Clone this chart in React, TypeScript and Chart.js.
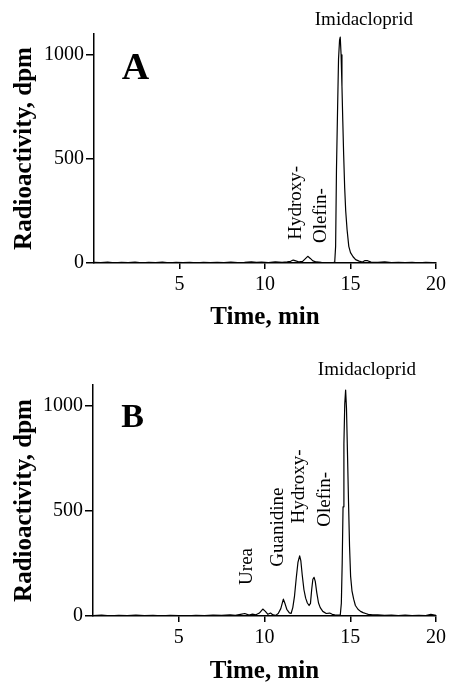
import React, { useEffect, useRef } from 'react';
import { Chart, registerables } from 'chart.js';

Chart.register(...registerables);

// ---------- data ----------
const timeA = [0, 0.4, 0.8, 1.2, 1.6, 2.0, 2.4, 2.8, 3.2, 3.6, 4.0, 4.4, 4.8, 5.2, 5.6, 6.0, 6.4, 6.8, 7.2, 7.6, 8.0, 8.4, 8.8, 9.2, 9.5, 9.8, 10.2, 10.6, 11.0, 11.3, 11.5, 11.65, 11.8, 12.0, 12.2, 12.35, 12.5, 12.65, 12.8, 13.0, 13.3, 13.6, 13.9, 14.05, 14.08, 14.13, 14.18, 14.24, 14.3, 14.36, 14.4, 14.45, 14.5, 14.55, 14.6, 14.66, 14.72, 14.8, 14.9, 15.0, 15.15, 15.3, 15.5, 15.7, 15.85, 16.0, 16.2, 16.6, 17.0, 17.4, 17.8, 18.2, 18.6, 19.0, 19.4, 19.8, 20];
const valueA = [3, 2, 4, 1, 3, 2, 4, 1, 3, 2, 4, 1, 3, 2, 3, 1, 3, 2, 3, 2, 4, 2, 3, 6, 3, 4, 2, 5, 3, 5, 8, 14, 10, 5, 8, 20, 32, 22, 10, 5, 3, 2, 1, 3, 8, 80, 450, 720, 980, 1070, 1085, 1000, 850, 680, 520, 360, 250, 160, 80, 50, 30, 16, 9, 5, 12, 11, 4, 3, 5, 2, 3, 2, 3, 1, 3, 2, 2];

const timeB = [0, 0.5, 1.0, 1.5, 2.0, 2.5, 3.0, 3.5, 4.0, 4.5, 5.0, 5.5, 6.0, 6.5, 7.0, 7.5, 8.0, 8.3, 8.6, 8.85, 9.1, 9.3, 9.5, 9.7, 9.9, 10.05, 10.2, 10.35, 10.5, 10.65, 10.8, 10.95, 11.1, 11.2, 11.3, 11.45, 11.55, 11.65, 11.75, 11.85, 11.95, 12.05, 12.12, 12.2, 12.3, 12.4, 12.5, 12.6, 12.68, 12.75, 12.82, 12.89, 12.96, 13.05, 13.15, 13.25, 13.4, 13.6, 13.8, 13.95, 14.1, 14.3, 14.42, 14.48, 14.53, 14.58, 14.63, 14.68, 14.73, 14.78, 14.84, 14.9, 14.96, 15.02, 15.1, 15.2, 15.3, 15.45, 15.6, 15.75, 15.9, 16.05, 16.3, 16.6, 17.0, 17.4, 17.8, 18.2, 18.6, 19.0, 19.4, 19.7, 20];
const valueB = [2, 4, 1, 3, 2, 4, 2, 3, 1, 3, 2, 1, 3, 2, 4, 3, 5, 3, 8, 12, 4, 9, 6, 14, 33, 22, 8, 14, 5, 3, 12, 35, 80, 58, 32, 15, 12, 40, 95, 180, 255, 286, 262, 195, 125, 85, 62, 50, 60, 125, 175, 184, 165, 110, 62, 40, 22, 12, 14, 8, 6, 4, 6, 60, 250, 520, 820, 1010, 1076, 990, 770, 540, 330, 190, 120, 80, 50, 32, 22, 16, 12, 8, 5, 6, 3, 4, 2, 4, 2, 3, 2, 8, 3];

const xTicks = [5, 10, 15, 20];
const yTicks = [0, 500, 1000];
const xTitle = 'Time, min';
const yTitle = 'Radioactivity, dpm';

// peak labels, anchored in data units (t = time, v = dpm)
const labelsA = [
  { text: 'Imidacloprid', t: 15.78, v: 1141, vertical: false },
  { text: 'Hydroxy-', t: 11.8, v: 112, vertical: true },
  { text: 'Olefin-', t: 13.27, v: 96, vertical: true },
];
const labelsB = [
  { text: 'Imidacloprid', t: 15.97, v: 1148, vertical: false },
  { text: 'Urea', t: 9.0, v: 148, vertical: true },
  { text: 'Guanidine', t: 10.79, v: 235, vertical: true },
  { text: 'Hydroxy-', t: 12.0, v: 441, vertical: true },
  { text: 'Olefin-', t: 13.5, v: 425, vertical: true },
];
const panelA = { text: 'A', t: 2.43, v: 886 };
const panelB = { text: 'B', t: 2.31, v: 902 };

const SERIF = "'Liberation Serif', 'Times New Roman', serif";

type Lbl = { text: string; t: number; v: number; vertical: boolean };
type Geom = { height: number; top: number; axisH: number; left: number; right: number; titlePad: number; letterSize: number };

function makeChart(canvas: HTMLCanvasElement, times: number[], values: number[], labels: Lbl[], panel: { text: string; t: number; v: number }, g: Geom) {
  const labelPlugin = {
    id: 'peakLabels',
    afterDraw(chart: any) {
      const { ctx } = chart;
      const xs = chart.scales.x;
      const ys = chart.scales.y;
      ctx.save();
      ctx.fillStyle = '#000';
      ctx.font = `19px ${SERIF}`;
      for (const l of labels) {
        const px = xs.getPixelForValue(l.t);
        const py = ys.getPixelForValue(l.v);
        if (l.vertical) {
          ctx.save();
          ctx.translate(px, py);
          ctx.rotate(-Math.PI / 2);
          ctx.textAlign = 'left';
          ctx.textBaseline = 'middle';
          ctx.fillText(l.text, 0, 0);
          ctx.restore();
        } else {
          ctx.textAlign = 'center';
          ctx.textBaseline = 'alphabetic';
          ctx.fillText(l.text, px, py);
        }
      }
      ctx.font = `bold ${g.letterSize}px ${SERIF}`;
      ctx.textAlign = 'center';
      ctx.textBaseline = 'alphabetic';
      ctx.fillText(panel.text, xs.getPixelForValue(panel.t), ys.getPixelForValue(panel.v));
      ctx.restore();
    },
  };

  return new Chart(canvas, {
    type: 'line',
    data: {
      datasets: [
        {
          data: times.map((t, i) => ({ x: t, y: values[i] })),
          borderColor: '#000',
          borderWidth: 1.2,
          pointRadius: 0,
          fill: false,
          tension: 0,
          borderJoinStyle: 'round',
        },
      ],
    },
    options: {
      animation: false,
      responsive: false,
      devicePixelRatio: 1,
      layout: { padding: { top: g.top, right: g.right, left: 0, bottom: 0 } },
      plugins: { legend: { display: false }, title: { display: false }, tooltip: { enabled: false } },
      scales: {
        x: {
          type: 'linear',
          min: 0,
          max: 20,
          afterBuildTicks: (s: any) => {
            s.ticks = xTicks.map((v) => ({ value: v }));
          },
          afterFit: (s: any) => {
            s.height = g.axisH;
          },
          ticks: { color: '#000', font: { family: SERIF, size: 20 }, padding: 4, maxRotation: 0, autoSkip: false, callback: (v: any) => String(v) },
          grid: { display: true, drawOnChartArea: false, drawTicks: true, tickLength: 6, color: '#000', lineWidth: 1.5 },
          border: { display: true, color: '#000', width: 1.5 },
          title: { display: true, text: xTitle, color: '#000', font: { family: SERIF, size: 25, weight: 'bold', lineHeight: 1.2 }, padding: { top: 0, bottom: g.titlePad } },
        },
        y: {
          type: 'linear',
          min: 0,
          max: 1100,
          afterBuildTicks: (s: any) => {
            s.ticks = yTicks.map((v) => ({ value: v }));
          },
          afterFit: (s: any) => {
            s.width = g.left;
          },
          ticks: { color: '#000', font: { family: SERIF, size: 20 }, padding: 2, autoSkip: false, callback: (v: any) => String(v) },
          grid: { display: true, drawOnChartArea: false, drawTicks: true, tickLength: 8, color: '#000', lineWidth: 1.5 },
          border: { display: true, color: '#000', width: 1.5 },
          title: { display: true, text: yTitle, color: '#000', font: { family: SERIF, size: 25, weight: 'bold', lineHeight: 1.2 }, padding: { top: 10, bottom: 0 } },
        },
      },
    } as any,
    plugins: [labelPlugin],
  });
}

const geomA: Geom = { height: 333, top: 34, axisH: 70, left: 94, right: 13, titlePad: 0.5, letterSize: 38 };
const geomB: Geom = { height: 360, top: 52, axisH: 77, left: 93, right: 10, titlePad: 6.4, letterSize: 34 };

export default function App() {
  const refA = useRef<HTMLCanvasElement>(null);
  const refB = useRef<HTMLCanvasElement>(null);

  useEffect(() => {
    const a = makeChart(refA.current!, timeA, valueA, labelsA, panelA, geomA);
    const b = makeChart(refB.current!, timeB, valueB, labelsB, panelB, geomB);
    return () => {
      a.destroy();
      b.destroy();
    };
  }, []);

  return (
    <div style={{ position: 'fixed', left: 0, top: 0, width: 450, height: 683, overflow: 'hidden', background: '#fff' }}>
      <canvas ref={refA} width={450} height={geomA.height} style={{ position: 'absolute', left: 0, top: 0, display: 'block' }} />
      <canvas ref={refB} width={450} height={geomB.height} style={{ position: 'absolute', left: 0, top: 333, display: 'block' }} />
    </div>
  );
}
